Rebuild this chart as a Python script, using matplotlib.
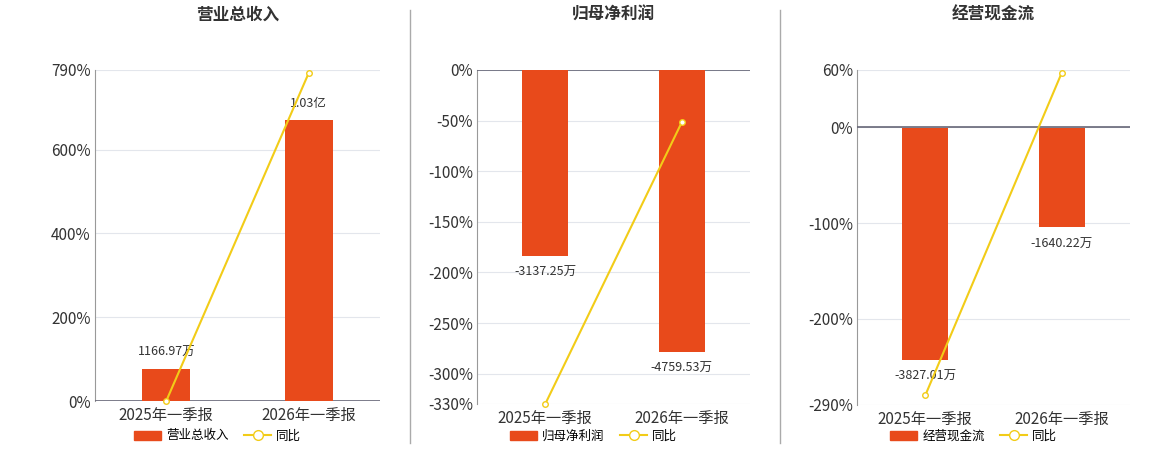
import matplotlib.pyplot as plt
import matplotlib.lines as mlines
import matplotlib.patches as mpatches

plt.rcParams['font.family'] = ['Noto Sans CJK SC', 'DejaVu Sans']

periods = ['2025年一季报', '2026年一季报']
titles = ['营业总收入', '归母净利润', '经营现金流']
bar_vals = [[1166.97, 10300.0], [-3137.25, -4759.53], [-3827.01, -1640.22]]
bar_labels = [['1166.97万', '1.03亿'], ['-3137.25万', '-4759.53万'], ['-3827.01万', '-1640.22万']]
yoy = [[0.0, 783.0], [-330.0, -51.7], [-280.0, 57.1]]
yticks = [[0, 200, 400, 600, 790], [0, -50, -100, -150, -200, -250, -300, -330], [60, 0, -100, -200, -290]]
ylims = [(0, 790), (-330, 0), (-290, 60)]
bar_lims = [(0, 12133), (-5637, 0), (-4570, 957)]

BAR = '#E84A1B'
LINE = '#F2CC18'

fig = plt.figure(figsize=(11.6, 4.5), dpi=100)
W, H = 1160, 450
boxes = [(95, 70, 380, 401), (477, 70, 750, 404), (857, 70, 1130, 405)]

for i in range(3):
    x0, y0, x1, y1 = boxes[i]
    ax = fig.add_axes([x0 / W, 1 - y1 / H, (x1 - x0) / W, (y1 - y0) / H])
    ax.set_xlim(-0.5, 1.5)
    ax.set_ylim(*ylims[i])
    ax.set_yticks(yticks[i])
    ax.set_yticklabels([f'{t}%' for t in yticks[i]], fontsize=11, color='#333333')
    ax.yaxis.grid(True, color='#e3e6ec', lw=0.8)
    ax.set_axisbelow(True)
    for s in ['top', 'right', 'bottom']:
        ax.spines[s].set_visible(False)
    ax.spines['left'].set_color('#999999')
    ax.set_xticks([0, 1])
    ax.set_xticklabels(periods, fontsize=11, color='#333333')
    ax.tick_params(axis='x', length=0, pad=4)
    ax.tick_params(axis='y', length=0, pad=3)
    ax.axhline(0, color='#666677', lw=1.2, zorder=4)
    ax.plot([0.5, 0.5], [0, 0], color='#666677')
    ax.set_title(titles[i], fontsize=12, fontweight='bold', color='#333333', pad=36)

    bx = ax.twinx()
    bx.set_ylim(*bar_lims[i])
    bx.axis('off')
    bx.bar([0, 1], bar_vals[i], width=0.34, color=BAR, zorder=2)
    span = bar_lims[i][1] - bar_lims[i][0]
    for j, v in enumerate(bar_vals[i]):
        off = span * 0.03
        bx.text(j, v + off if v > 0 else v - off, bar_labels[i][j], ha='center',
                va='bottom' if v > 0 else 'top', fontsize=9, color='#333333')

    lx = ax.twinx()
    lx.set_ylim(*ylims[i])
    lx.axis('off')
    lx.plot([0, 1], yoy[i], color=LINE, lw=1.5, marker='o', ms=4,
            markerfacecolor='white', markeredgecolor=LINE, clip_on=False, zorder=5)

    # legend
    cx = (x0 + x1) / 2
    lax = fig.add_axes([(cx - 170) / W, 1 - 446 / H, 300 / W, 20 / H])
    lax.axis('off')
    handles = [mpatches.FancyBboxPatch((0, 0), 1, 1, boxstyle='round,pad=0.1', color=BAR),
               mlines.Line2D([], [], color=LINE, lw=1.5, marker='o', ms=7,
                             markerfacecolor='white', markeredgecolor=LINE)]
    lax.legend(handles, [titles[i], '同比'], loc='center', ncol=2, frameon=False,
               fontsize=9, handlelength=2.2, columnspacing=1.2, handletextpad=0.4)

for xs in [410, 780]:
    fig.add_artist(mlines.Line2D([xs / W, xs / W], [1 - 443 / H, 1 - 10 / H], color='#aaaaaa', lw=1))

fig.savefig('out.png', dpi=100)
